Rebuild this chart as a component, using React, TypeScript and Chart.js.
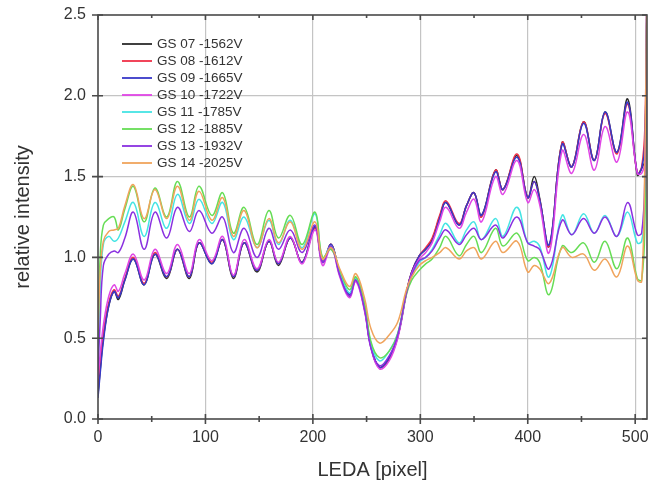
import React, { useEffect, useRef } from 'react';
import { Chart, registerables } from 'chart.js';

Chart.register(...registerables);

// LEDA pixel positions shared by all series
const pixels = [0, 2, 5, 10, 15, 19, 25, 33, 43, 53, 64, 74, 85, 94, 106, 116, 126, 136, 148, 159, 168, 179, 190, 202, 209, 217, 225, 234, 240, 248, 254, 262, 271, 279, 287, 292, 299, 305, 311, 318, 324, 336, 343, 350, 357, 370, 377, 390, 400, 406, 411, 420, 432, 441, 452, 462, 472, 483, 493, 502, 506, 509, 511];

const gs07 = [0.15, 0.30, 0.50, 0.70, 0.79, 0.74, 0.86, 0.99, 0.83, 1.02, 0.87, 1.05, 0.87, 1.09, 0.96, 1.11, 0.87, 1.09, 0.91, 1.10, 0.95, 1.12, 0.97, 1.19, 0.97, 1.08, 0.90, 0.77, 0.87, 0.69, 0.45, 0.32, 0.37, 0.51, 0.78, 0.91, 1.01, 1.05, 1.11, 1.25, 1.34, 1.20, 1.32, 1.40, 1.26, 1.54, 1.42, 1.63, 1.37, 1.50, 1.37, 1.07, 1.71, 1.56, 1.84, 1.60, 1.90, 1.65, 1.98, 1.51, 1.55, 1.60, 2.70];
const gs08 = [0.20, 0.35, 0.53, 0.72, 0.80, 0.76, 0.87, 1.00, 0.84, 1.03, 0.88, 1.05, 0.88, 1.09, 0.97, 1.11, 0.88, 1.09, 0.92, 1.10, 0.96, 1.12, 0.97, 1.18, 0.97, 1.08, 0.90, 0.76, 0.86, 0.68, 0.45, 0.32, 0.38, 0.51, 0.78, 0.91, 1.01, 1.06, 1.12, 1.26, 1.35, 1.21, 1.32, 1.40, 1.25, 1.54, 1.42, 1.64, 1.37, 1.47, 1.36, 1.07, 1.71, 1.56, 1.84, 1.60, 1.89, 1.64, 1.95, 1.52, 1.56, 1.80, 2.70];
const gs09 = [0.13, 0.28, 0.48, 0.70, 0.79, 0.75, 0.86, 0.99, 0.83, 1.02, 0.88, 1.05, 0.88, 1.09, 0.96, 1.11, 0.88, 1.09, 0.92, 1.10, 0.96, 1.12, 0.97, 1.19, 0.97, 1.08, 0.90, 0.77, 0.87, 0.69, 0.45, 0.32, 0.38, 0.51, 0.78, 0.91, 1.01, 1.05, 1.10, 1.24, 1.34, 1.20, 1.32, 1.40, 1.26, 1.53, 1.42, 1.62, 1.37, 1.47, 1.36, 1.08, 1.70, 1.56, 1.83, 1.60, 1.90, 1.65, 1.96, 1.52, 1.55, 1.70, 2.70];
const gs10 = [0.25, 0.40, 0.58, 0.76, 0.83, 0.79, 0.90, 1.02, 0.86, 1.05, 0.90, 1.08, 0.90, 1.11, 0.98, 1.13, 0.89, 1.11, 0.93, 1.11, 0.97, 1.13, 0.96, 1.17, 0.95, 1.06, 0.88, 0.75, 0.85, 0.67, 0.44, 0.31, 0.36, 0.50, 0.77, 0.90, 0.99, 1.03, 1.09, 1.22, 1.31, 1.18, 1.28, 1.36, 1.22, 1.50, 1.39, 1.60, 1.34, 1.42, 1.33, 1.03, 1.66, 1.52, 1.76, 1.54, 1.81, 1.59, 1.90, 1.52, 1.52, 1.60, 2.70];
const gs11 = [0.35, 0.80, 1.08, 1.13, 1.10, 1.12, 1.22, 1.34, 1.13, 1.34, 1.18, 1.39, 1.21, 1.36, 1.21, 1.34, 1.11, 1.25, 1.06, 1.23, 1.08, 1.23, 1.06, 1.27, 0.99, 1.07, 0.91, 0.78, 0.87, 0.70, 0.47, 0.36, 0.42, 0.53, 0.78, 0.88, 0.97, 1.00, 1.05, 1.14, 1.21, 1.09, 1.17, 1.22, 1.11, 1.24, 1.13, 1.31, 1.09, 1.10, 1.07, 0.88, 1.26, 1.14, 1.27, 1.15, 1.26, 1.13, 1.28, 1.09, 1.10, 1.30, 2.70];
const gs12 = [0.50, 1.00, 1.20, 1.24, 1.25, 1.17, 1.30, 1.44, 1.22, 1.43, 1.25, 1.47, 1.25, 1.44, 1.26, 1.40, 1.15, 1.31, 1.08, 1.29, 1.12, 1.26, 1.08, 1.28, 1.00, 1.05, 0.92, 0.80, 0.88, 0.72, 0.48, 0.38, 0.42, 0.53, 0.77, 0.86, 0.92, 0.96, 0.99, 1.06, 1.13, 1.01, 1.08, 1.13, 1.03, 1.18, 1.07, 1.15, 0.98, 1.00, 0.97, 0.77, 1.07, 1.03, 1.09, 0.97, 1.10, 0.93, 1.12, 0.87, 0.86, 1.20, 2.70];
const gs13 = [0.30, 0.60, 0.95, 1.02, 1.04, 1.03, 1.12, 1.28, 1.05, 1.28, 1.12, 1.31, 1.16, 1.29, 1.15, 1.25, 1.03, 1.18, 1.00, 1.18, 1.05, 1.17, 1.03, 1.20, 0.97, 1.07, 0.89, 0.76, 0.86, 0.68, 0.44, 0.33, 0.39, 0.52, 0.78, 0.89, 0.98, 1.00, 1.04, 1.12, 1.17, 1.08, 1.14, 1.18, 1.11, 1.20, 1.12, 1.25, 1.09, 1.07, 1.05, 0.93, 1.23, 1.14, 1.24, 1.15, 1.25, 1.13, 1.34, 1.14, 1.15, 1.50, 2.70];
const gs14 = [0.55, 0.90, 1.10, 1.16, 1.17, 1.18, 1.32, 1.45, 1.24, 1.42, 1.24, 1.44, 1.23, 1.41, 1.23, 1.37, 1.13, 1.29, 1.06, 1.24, 1.09, 1.22, 1.05, 1.22, 0.99, 1.06, 0.93, 0.82, 0.90, 0.75, 0.56, 0.47, 0.52, 0.60, 0.80, 0.88, 0.95, 0.98, 1.00, 1.03, 1.06, 0.99, 1.04, 1.06, 0.99, 1.10, 1.03, 1.10, 0.91, 0.95, 0.93, 0.84, 1.06, 1.00, 1.02, 0.92, 0.99, 0.88, 1.07, 0.86, 0.85, 1.60, 2.70];

const seriesNames = ['GS 07 -1562V', 'GS 08 -1612V', 'GS 09 -1665V', 'GS 10 -1722V', 'GS 11 -1785V', 'GS 12 -1885V', 'GS 13 -1932V', 'GS 14 -2025V'];
const seriesValues = [gs07, gs08, gs09, gs10, gs11, gs12, gs13, gs14];
const seriesColors = ['#2b2b2b', '#f03048', '#3838c8', '#e046e6', '#44e4e4', '#66dd55', '#8a30e0', '#f0a45c'];

const xMajorTicks = [0, 100, 200, 300, 400, 500];
const xMinorTicks = [50, 150, 250, 350, 450];
const yMajorTicks = [0, 0.5, 1.0, 1.5, 2.0, 2.5];

const FONT = "'Liberation Sans', Arial, sans-serif";
const TEXT = '#333333';

const framePlugin = {
  id: 'frameTicks',
  afterDatasetsDraw(chart: any) {
    const { ctx, chartArea: a, scales } = chart;
    const xs = scales.x;
    const ys = scales.y;
    ctx.save();
    ctx.strokeStyle = '#4a4a4a';
    ctx.lineWidth = 1.6;
    ctx.strokeRect(a.left, a.top, a.right - a.left, a.bottom - a.top);
    ctx.beginPath();
    xMajorTicks.forEach((v) => {
      const px = xs.getPixelForValue(v);
      ctx.moveTo(px, a.bottom - 5);
      ctx.lineTo(px, a.bottom + 5);
      ctx.moveTo(px, a.top);
      ctx.lineTo(px, a.top + 5);
    });
    xMinorTicks.forEach((v) => {
      const px = xs.getPixelForValue(v);
      ctx.moveTo(px, a.bottom - 3);
      ctx.lineTo(px, a.bottom + 3);
      ctx.moveTo(px, a.top);
      ctx.lineTo(px, a.top + 3);
    });
    yMajorTicks.forEach((v) => {
      const py = ys.getPixelForValue(v);
      ctx.moveTo(a.left - 6, py);
      ctx.lineTo(a.left + 5, py);
      ctx.moveTo(a.right - 5, py);
      ctx.lineTo(a.right, py);
    });
    ctx.stroke();

    // legend inside the plot
    const x0 = 122;
    const x1 = 152;
    const y0 = 44;
    const dy = 17;
    ctx.font = `13.5px ${FONT}`;
    ctx.textBaseline = 'middle';
    ctx.textAlign = 'left';
    chart.data.datasets.forEach((ds: any, i: number) => {
      const y = y0 + i * dy;
      ctx.strokeStyle = ds.borderColor;
      ctx.lineWidth = 1.8;
      ctx.beginPath();
      ctx.moveTo(x0, y);
      ctx.lineTo(x1, y);
      ctx.stroke();
      ctx.fillStyle = TEXT;
      ctx.fillText(ds.label, 157, y + 0.5);
    });
    ctx.restore();
  },
};

export default function App() {
  const ref = useRef<HTMLCanvasElement | null>(null);

  useEffect(() => {
    document.body.style.margin = '0';
    const canvas = ref.current;
    if (!canvas) return;
    const datasets = seriesValues.map((vals, i) => ({
      label: seriesNames[i],
      data: pixels.map((x, j) => ({ x, y: vals[j] })),
      borderColor: seriesColors[i],
      backgroundColor: seriesColors[i],
      borderWidth: 1.5,
      pointRadius: 0,
      tension: 0.4,
      fill: false,
      order: seriesValues.length - i,
    }));
    const chart = new Chart(canvas, {
      type: 'line',
      data: { datasets },
      plugins: [framePlugin],
      options: {
        animation: false,
        responsive: false,
        devicePixelRatio: 1,
        layout: { padding: { top: 15, right: 6, left: 0, bottom: 0 } },
        plugins: {
          legend: { display: false },
          tooltip: { enabled: false },
        },
        scales: {
          x: {
            type: 'linear',
            min: 0,
            max: 511,
            afterBuildTicks: (scale: any) => {
              scale.ticks = xMajorTicks.map((v) => ({ value: v }));
            },
            afterFit: (scale: any) => {
              scale.height = 72;
              scale.paddingRight = 0;
              scale.paddingLeft = 0;
            },
            grid: {
              color: (c: any) => (c.tick && c.tick.value === 0 ? 'rgba(0,0,0,0)' : '#c4c4c4'),
              lineWidth: 1.2,
              drawTicks: false,
            },
            border: { display: false },
            ticks: {
              padding: 9,
              color: TEXT,
              font: { family: FONT, size: 16 },
              maxRotation: 0,
              callback: (v: any) => String(v),
            },
            title: {
              display: true,
              text: 'LEDA [pixel]',
              color: TEXT,
              font: { family: FONT, size: 20 },
              padding: { top: 4, bottom: 9 },
            },
          },
          y: {
            type: 'linear',
            min: 0,
            max: 2.5,
            afterBuildTicks: (scale: any) => {
              scale.ticks = yMajorTicks.map((v) => ({ value: v }));
            },
            afterFit: (scale: any) => {
              scale.width = 98;
              scale.paddingTop = 0;
              scale.paddingBottom = 0;
            },
            grid: {
              color: (c: any) =>
                c.tick && (c.tick.value === 0 || c.tick.value === 2.5) ? 'rgba(0,0,0,0)' : '#c4c4c4',
              lineWidth: 1.2,
              drawTicks: false,
            },
            border: { display: false },
            ticks: {
              padding: 12,
              color: TEXT,
              font: { family: FONT, size: 16 },
              callback: (v: any) => Number(v).toFixed(1),
            },
            title: {
              display: true,
              text: 'relative intensity',
              color: TEXT,
              font: { family: FONT, size: 20 },
              padding: { top: 11, bottom: 4 },
            },
          },
        },
      },
    });
    return () => chart.destroy();
  }, []);

  return (
    <div style={{ width: 653, height: 491, background: '#fff' }}>
      <canvas ref={ref} width={653} height={491} style={{ display: 'block' }} />
    </div>
  );
}
